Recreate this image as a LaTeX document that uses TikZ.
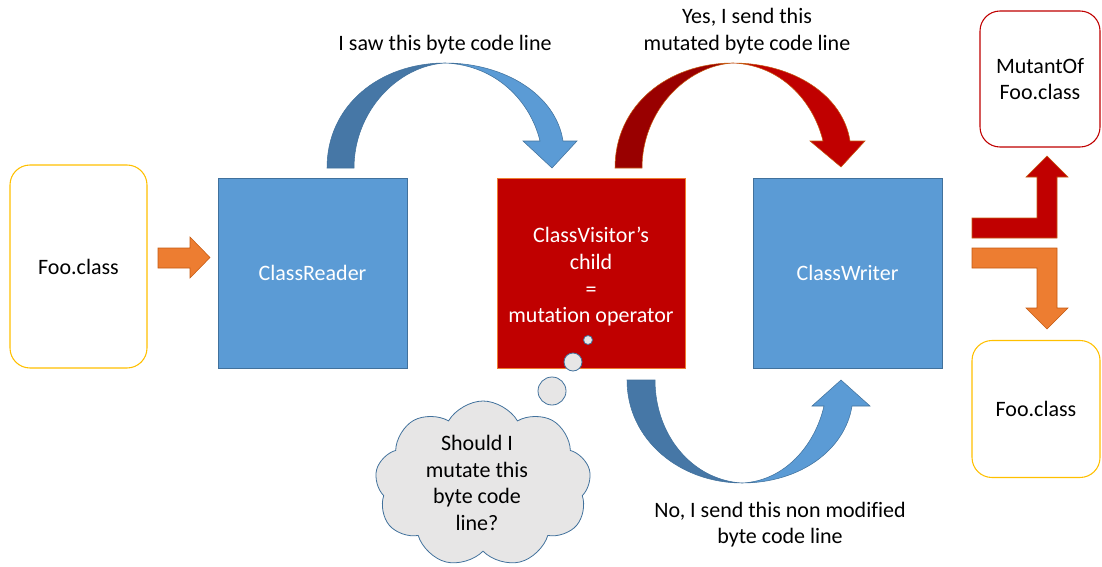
\documentclass[tikz,border=0pt]{standalone}
\usepackage{fontspec}
\setmainfont[Ligatures={NoCommon,NoRare}]{Carlito}
\usetikzlibrary{shapes.symbols}
\definecolor{boxblue}{HTML}{5B9BD5}
\definecolor{boxblueline}{HTML}{41719C}
\definecolor{darkblue}{HTML}{4677A6}
\definecolor{boxred}{HTML}{C00000}
\definecolor{darkred}{HTML}{990000}
\definecolor{redline}{HTML}{C55A11}
\definecolor{orangefill}{HTML}{ED7D31}
\definecolor{orangeline}{HTML}{C55A11}
\definecolor{gold}{HTML}{FFC000}
\definecolor{cloudfill}{HTML}{E7E6E6}
\begin{document}
\begin{tikzpicture}[x=0.75pt,y=-0.75pt,
  txt/.style={font=\fontsize{16.5}{20}\selectfont, align=center, inner sep=0pt},
  wtxt/.style={txt, text=white},
  bluebox/.style={draw=boxblueline, fill=boxblue, line width=0.6pt, minimum width=189*0.75pt, minimum height=190*0.75pt, inner sep=0pt},
  redbox/.style={draw=orangefill, fill=boxred, line width=0.6pt, minimum width=188*0.75pt, minimum height=190*0.75pt, inner sep=0pt},
  filebox/.style={draw=#1, fill=white, line width=0.8pt, rounded corners=15pt, inner sep=0pt},
  bubble/.style={draw=boxblueline, fill=cloudfill, line width=0.6pt},
  blueline/.style={draw=boxblueline, line width=0.4pt},
  rededge/.style={draw=redline, line width=0.4pt}
]
\useasboundingbox (0,0) rectangle (1102,567);

% files
\node[filebox=gold, minimum width=137*0.75pt, minimum height=203*0.75pt, txt] (foo1) at (78.5,266.5) {Foo.class};
\node[filebox=boxred, minimum width=120*0.75pt, minimum height=136*0.75pt, txt] (mutant) at (1040,79) {MutantOf\\Foo.class};
\node[filebox=gold, minimum width=128*0.75pt, minimum height=137*0.75pt, txt] (foo2) at (1036,409) {Foo.class};

% processing boxes
\node[bluebox, wtxt] (reader) at (312.5,273) {ClassReader};
\node[redbox, minimum width=188*0.75pt, minimum height=190*0.75pt] (visitor) at (591,273) {};
\node[wtxt] (visitortext) at (591,277) {ClassVisitor’s\\child\\=\\mutation operator};
\node[bluebox, wtxt] (writer) at (847.5,273) {ClassWriter};

% straight orange arrow
\fill[orangefill, draw=orangeline, line width=0.4pt]
  (158,248) -- (190,248) -- (190,237) -- (210,257.5) -- (190,278) -- (190,268) -- (158,268) -- cycle;

% top blue curved arrow
\filldraw[fill=darkblue, blueline]
  (327,168) .. controls (327,105) and (380,63) .. (445,63)
  .. controls (397,66) and (354,112) .. (354,168) -- cycle;
\filldraw[fill=boxblue, blueline]
  (445,63) .. controls (505,63) and (556,95) .. (563,141) -- (577,141) -- (552,168) -- (523,141) -- (540,141)
  .. controls (530,100) and (495,65) .. (445,63) -- cycle;

% top red curved arrow
\filldraw[fill=darkred, rededge]
  (615,168) .. controls (615,105) and (668,63) .. (733,63)
  .. controls (685,66) and (642,112) .. (642,168) -- cycle;
\filldraw[fill=boxred, rededge]
  (733,63) .. controls (793,63) and (843,95) .. (850,141) -- (865,141) -- (841,167) -- (810,141) -- (823,141)
  .. controls (813,100) and (780,65) .. (733,63) -- cycle;

% bottom blue curved arrow
\filldraw[fill=darkblue, blueline]
  (627,380) .. controls (627,440) and (680,483) .. (742,483)
  .. controls (692,480) and (655,435) .. (655,380) -- cycle;
\filldraw[fill=boxblue, blueline]
  (742,483) .. controls (800,483) and (845,450) .. (852,406) -- (870,406) -- (841,380) -- (812,406) -- (824,406)
  .. controls (815,445) and (785,481) .. (742,483) -- cycle;

% bent arrows
\fill[boxred, draw=redline, line width=0.4pt]
  (972,218) -- (1037,218) -- (1037,177) -- (1026,177) -- (1047,156) -- (1068,177) -- (1057,177) -- (1057,238) -- (972,238) -- cycle;
\fill[orangefill, draw=orangeline, line width=0.4pt]
  (972,248) -- (1057,248) -- (1057,308) -- (1068,308) -- (1047,329) -- (1026,308) -- (1037,308) -- (1037,268) -- (972,268) -- cycle;

% labels
\node[txt] (lsaw) at (445,45) {I saw this byte code line};
\node[txt] (lyes) at (747,31) {Yes, I send this\\mutated byte code line};
\node[txt] (lno) at (780,524.5) {No, I send this non modified\\byte code line};

% thought bubbles and cloud
\node[bubble, circle, minimum size=9*0.75pt, inner sep=0pt] (b1) at (588,340) {};
\node[bubble, circle, minimum size=18*0.75pt, inner sep=0pt] (b2) at (573,362) {};
\node[bubble, circle, minimum size=28*0.75pt, inner sep=0pt] (b3) at (552,391) {};
\node[bubble, cloud, cloud puffs=9, cloud puff arc=120, minimum width=216*0.75pt, minimum height=166*0.75pt, inner sep=0pt] (cloud) at (483,484) {};
\node[txt] (cloudtext) at (477,483) {Should I\\mutate this\\byte code\\line?};
\end{tikzpicture}
\end{document}
